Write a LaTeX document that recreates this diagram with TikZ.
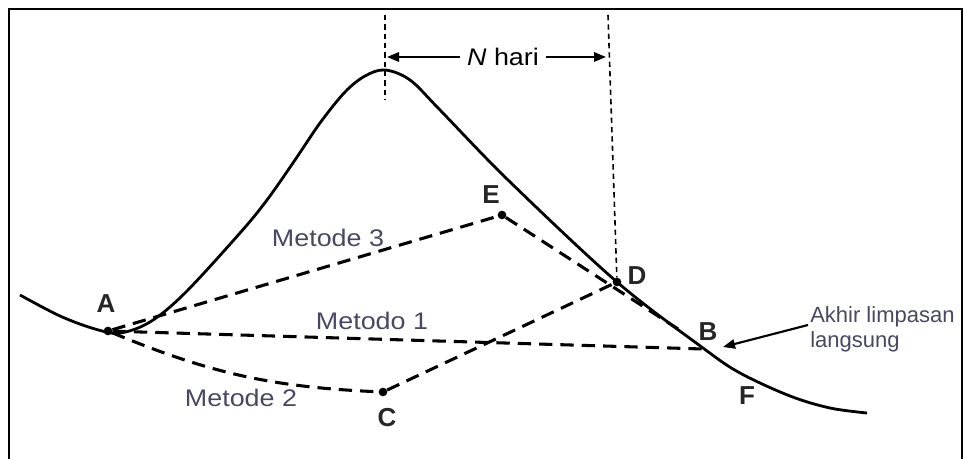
\documentclass[tikz,border=0pt]{standalone}
\usepackage{fontspec}
\usepackage{graphicx}
\setmainfont{Liberation Sans}
\usetikzlibrary{arrows.meta}
\definecolor{lbl}{RGB}{72,72,98}
\newcommand{\wx}[1]{\scalebox{1.12}[1]{#1}}
\begin{document}
\begin{tikzpicture}[x=0.75pt,y=-0.75pt,
  curve/.style={line width=2.1pt},
  meth/.style={line width=2.3pt, dash pattern=on 10pt off 6pt},
  guide/.style={line width=1.2pt, dash pattern=on 4pt off 3pt},
  pt/.style={circle, fill=black, inner sep=0pt, minimum size=6.5pt},
  letter/.style={font=\fontsize{19.5}{22}\selectfont\bfseries, text=black!85, inner sep=0pt},
  methlbl/.style={font=\fontsize{18}{21}\selectfont, text=lbl, inner sep=0pt},
  arr/.style={line width=1.6pt, -{Triangle[length=9pt,width=7pt]}}]
\useasboundingbox (0,0) rectangle (964,459);
% frame (open at the bottom)
\draw[line width=2.2pt] (9,459) -- (9,9) -- (962,9) -- (962,459);

% hydrograph
\draw[curve] plot[smooth, tension=0.55] coordinates {
  (20,295) (60,316) (95,329) (120,333) (150,322) (185,293)
  (240,233) (267,200) (295,160) (320,123) (345,92) (365,76) (385,70)
  (410,80) (440,110) (508,180) (617,282)
  (703,348) (740,373) (790,396) (830,408) (867,413)};

% points
\node[pt] (A) at (108,331) {};
\node[pt] (C) at (383,392) {};
\node[pt] (D) at (617,282) {};
\node[pt] (E) at (502,215) {};
\coordinate (B) at (703,349);
\coordinate (Eend) at (678,329);

% methods
\draw[meth] (A) -- (B);
\draw[meth] (A) to[bend right=10] (C);
\draw[meth] (C) -- (D);
\draw[meth] (A) -- (E);
\draw[meth] (E) -- (Eend);

% guides
\coordinate (Ptop) at (385,15);
\coordinate (Pbot) at (385,100);
\coordinate (Dtop) at (608,15);
\draw[guide] (Ptop) -- (Pbot);
\draw[guide] (Dtop) -- (D);

% N hari
\node[methlbl, text=black] (N) at (503,57) {\wx{\textit{N} hari}};
\coordinate (Nl) at (387,57);
\coordinate (Nr) at (606,57);
\draw[arr] ([xshift=-5pt]N.west) -- (Nl);
\draw[arr] ([xshift=5pt]N.east) -- (Nr);

% letters
\node[letter] (lA) at (106,304) {A};
\node[letter] (lB) at (708,332) {B};
\node[letter] (lC) at (387,418) {C};
\node[letter] (lD) at (637,276) {D};
\node[letter] (lE) at (491,195) {E};
\node[letter] (lF) at (747,396) {F};

% method labels
\node[methlbl] (m3) at (328,238) {\wx{Metode 3}};
\node[methlbl] (m1) at (372,321) {\wx{Metodo 1}};
\node[methlbl] (m2) at (241,398) {\wx{Metode 2}};

% end of direct runoff
\node[methlbl, font=\fontsize{16.5}{19}\selectfont, anchor=north west, align=left] (ak) at (810,306) {Akhir limpasan\\langsung};
\coordinate (akt) at (808,325);
\coordinate (Bt) at (723,347);
\draw[arr] (akt) -- (Bt);
\end{tikzpicture}
\end{document}
